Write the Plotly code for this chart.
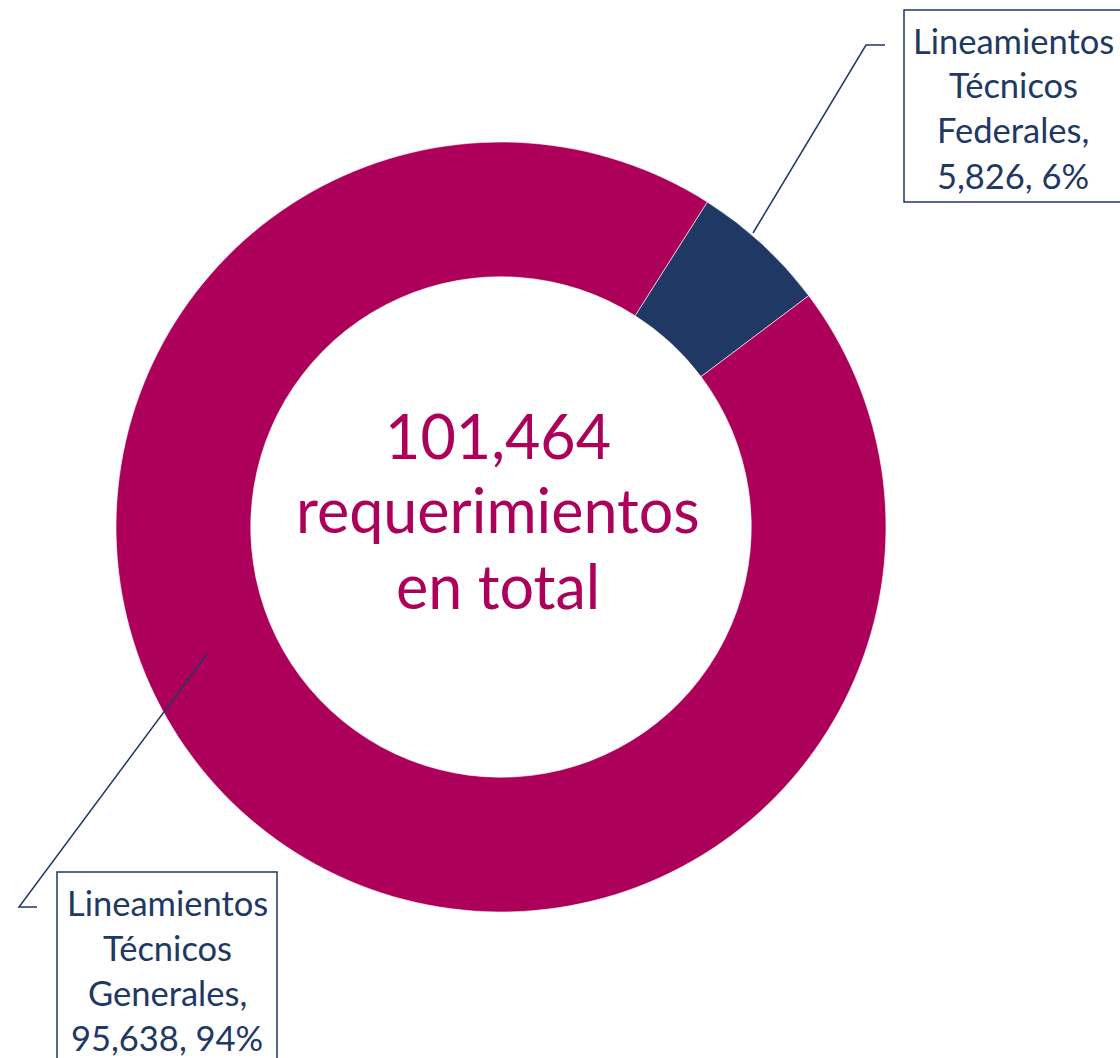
import plotly.graph_objects as go

W, H = 1120, 1058

categories = ["Lineamientos Técnicos Federales", "Lineamientos Técnicos Generales"]
values = [5826, 95638]
colors = ["#203864", "#AC005A"]
label_lines_fed = ["Lineamientos", "Técnicos", "Federales,", "5,826, 6%"]
label_lines_gen = ["Lineamientos", "Técnicos", "Generales,", "95,638, 94%"]
center_lines = ["101,464", "requerimientos", "en total"]

def px(x):
    return x / W

def py(y):
    return 1 - y / H

NAVY = "#203864"
MAG = "#AC005A"
FONT = "Lato"

fig = go.Figure()
fig.add_trace(go.Pie(
    labels=categories,
    values=values,
    hole=0.65,
    sort=False,
    direction="clockwise",
    rotation=32.4,
    marker=dict(colors=colors, line=dict(color="white", width=0.6)),
    textinfo="none",
    hoverinfo="skip",
    showlegend=False,
    domain=dict(x=[px(116), px(886)], y=[py(912), py(142)]),
))

annotations = []
# center text
for i, t in enumerate(center_lines):
    annotations.append(dict(
        text=t, x=px(498), y=py(435 + 75 * i), xref="paper", yref="paper",
        showarrow=False, xanchor="center", yanchor="middle",
        font=dict(family=FONT, size=61, color=MAG),
    ))
# federales label
for i, t in enumerate(label_lines_fed):
    annotations.append(dict(
        text=t, x=px(1013), y=py(40 + 45 * i), xref="paper", yref="paper",
        showarrow=False, xanchor="center", yanchor="middle",
        font=dict(family=FONT, size=34.5, color=NAVY),
    ))
# generales label
for i, t in enumerate(label_lines_gen):
    annotations.append(dict(
        text=t, x=px(167), y=py(902 + 45 * i), xref="paper", yref="paper",
        showarrow=False, xanchor="center", yanchor="middle",
        font=dict(family=FONT, size=34.5, color=NAVY),
    ))

shapes = [
    # boxes
    dict(type="rect", xref="paper", yref="paper", x0=px(904), x1=px(1130), y0=py(202), y1=py(10),
         line=dict(color=NAVY, width=1.5), fillcolor="rgba(0,0,0,0)"),
    dict(type="rect", xref="paper", yref="paper", x0=px(57), x1=px(277), y0=py(1070), y1=py(872),
         line=dict(color=NAVY, width=1.5), fillcolor="rgba(0,0,0,0)"),
    # leader lines
    dict(type="path", xref="paper", yref="paper",
         path=f"M {px(753)},{py(233)} L {px(866)},{py(45)} L {px(885)},{py(45)}",
         line=dict(color=NAVY, width=1.5)),
    dict(type="path", xref="paper", yref="paper",
         path=f"M {px(207)},{py(654)} L {px(19)},{py(907)} L {px(37)},{py(907)}",
         line=dict(color=NAVY, width=1.5)),
]

fig.update_layout(
    width=W, height=H,
    margin=dict(l=0, r=0, t=0, b=0),
    paper_bgcolor="white", plot_bgcolor="white",
    annotations=annotations,
    shapes=shapes,
)

fig.write_html(
    "out.html",
    config={"displayModeBar": False},
    post_script="document.body.style.margin='0';document.body.style.overflow='hidden';",
)
